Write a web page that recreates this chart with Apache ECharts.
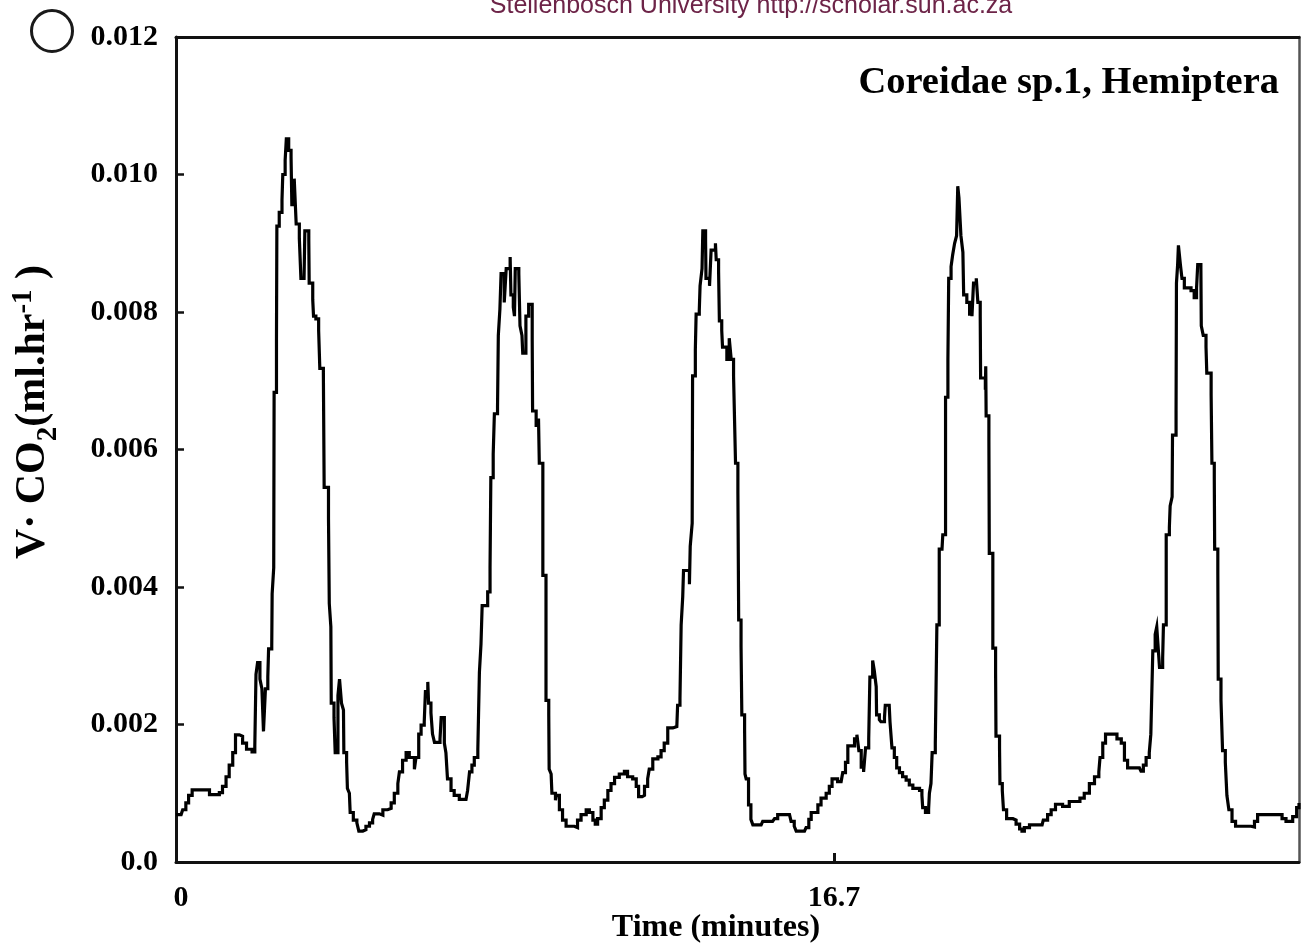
<!DOCTYPE html>
<html>
<head>
<meta charset="utf-8">
<script src="https://cdn.jsdelivr.net/npm/echarts@6/dist/echarts.min.js"></script>
<style>
html,body{margin:0;padding:0;background:#fff;}
#chart{width:1304px;height:951px;}
</style>
</head>
<body>
<div id="chart"></div>
<script>
// Time in minutes
const time = [
0,0.13,0.17,0.25,0.32,0.41,0.76,0.85,1.02,1.10,1.18,1.27,1.35,1.44,1.51,1.61,1.69,1.79,1.93,2.00,
2.03,2.07,2.13,2.18,2.22,2.27,2.33,2.35,2.43,2.44,2.48,2.49,2.55,2.56,2.62,2.69,2.71,2.77,2.80,2.86,
2.92,2.94,3.00,3.05,3.13,3.17,3.25,3.27,3.37,3.38,3.47,3.49,3.55,3.62,3.65,3.74,3.76,3.87,3.89,3.93,
3.94,4.01,4.04,4.11,4.15,4.20,4.25,4.26,4.33,4.35,4.40,4.42,4.50,4.59,4.64,4.74,
4.82,4.91,4.99,5.03,5.16,5.25,5.37,5.46,5.54,5.63,5.67,5.75,5.84,5.92,6.05,6.09,6.16,6.22,6.30,6.33,
6.39,6.41,6.47,6.51,6.56,6.64,6.70,6.73,6.81,6.81,6.85,6.89,6.98,7.06,7.19,7.36,7.40,7.45,7.51,7.57,
7.66,7.70,7.74,7.77,7.91,7.97,7.99,8.05,8.08,8.16,8.18,8.22,8.25,8.33,8.38,8.48,8.50,8.56,8.59,8.61,
8.70,8.73,8.78,8.80,8.88,8.95,9.04,9.05,9.14,9.20,9.22,9.31,9.31,9.39,9.39,9.46,9.47,9.52,9.54,9.63,
9.65,9.73,9.81,9.90,10.11,10.19,10.28,10.41,10.49,10.58,10.64,10.70,10.79,10.87,10.96,11.04,11.13,11.25,11.38,11.46,
11.59,11.68,11.74,11.83,11.89,11.97,12.01,12.10,12.23,12.31,12.39,12.48,12.61,12.71,12.73,12.79,12.82,12.86,12.88,13.03,
13.05,13.10,13.11,13.18,13.20,13.28,13.30,13.35,13.37,13.44,13.45,13.54,13.58,13.69,13.71,13.77,13.79,13.85,13.87,13.98,
14.04,14.09,14.15,14.20,14.26,14.28,14.34,14.36,14.43,14.44,14.47,
14.53,14.59,14.64,14.85,14.89,15.14,15.19,15.27,15.57,15.61,15.69,15.74,15.95,15.99,16.06,16.12,16.20,16.29,16.37,16.50,
16.58,16.65,16.73,16.79,16.88,16.92,16.99,17.05,17.16,17.22,17.28,17.33,17.39,17.45,17.50,17.58,17.61,17.68,17.72,17.77,
17.78,17.85,17.89,17.98,18.00,18.10,18.12,18.17,18.23,18.29,18.36,18.44,18.53,18.61,18.70,18.87,18.93,18.95,19.02,19.10,
19.12,19.16,19.19,19.27,
19.31,19.37,19.37,19.44,19.46,19.53,19.53,19.59,19.61,19.67,19.71,19.76,19.81,19.84,19.87,19.92,19.97,19.99,20.07,20.14,
20.20,20.24,20.31,20.35,20.41,20.42,20.54,20.55,20.56,20.63,20.64,20.73,20.73,20.80,20.81,20.90,20.91,20.97,21.00,21.08,
21.24,21.32,21.41,21.47,21.53,21.66,21.98,22.01,22.12,22.21,22.32,22.50,22.67,22.84,22.94,23.05,23.18,23.31,23.42,23.45,
23.52,23.59,23.82,23.88,23.99,24.07,
24.15,24.45,24.49,24.55,24.62,24.70,24.74,24.79,24.85,24.89,24.92,24.96,25.04,25.06,25.13,25.13,25.21,25.23,25.28,25.29,
25.38,25.39,25.42,25.44,25.49,25.53,25.59,25.76,25.84,25.90,25.93,26.01,26.02,26.07,26.14,26.16,26.27,26.29,26.35,26.36,
26.44,26.45,26.52,26.56,26.63,26.67,26.72,26.80,26.89,27.28,27.37,27.45,28.00,28.07,28.17,28.26,28.34,28.44,28.50
];
// VCO2 (ml/hr)
const vco2 = [
0.00069,0.00069,0.00076,0.00086,0.00097,0.00105,0.00105,0.00098,0.00098,0.00101,0.0011,0.00124,0.00141,0.00159,0.00185,0.00183,0.00173,0.00164,0.0016,0.00169,
0.00273,0.0029,0.00266,0.00252,0.0019,0.00252,0.00269,0.0031,0.00314,0.0039,0.00428,0.00683,0.00759,0.00925,0.00945,0.00963,0.01,0.01021,0.01052,0.01035,
0.01025,0.00956,0.00994,0.00928,0.00907,0.00849,0.00849,0.00918,0.00904,0.00842,0.00818,0.00794,0.0079,0.00773,0.00718,0.00711,0.00545,0.005,0.00376,0.00342,
0.00231,0.0021,0.00159,0.00242,0.00266,0.00231,0.00221,0.00159,0.00145,0.00107,0.001,0.00072,0.00061,0.00057,0.00045,0.00047,
0.00052,0.00057,0.00062,0.0007,0.00068,0.00076,0.00078,0.00086,0.001,0.00114,0.00131,0.00148,0.00159,0.00152,0.00135,0.00152,0.00186,0.00199,0.00204,0.00248,
0.00262,0.00231,0.00217,0.00186,0.00174,0.00174,0.00179,0.0021,0.0021,0.00173,0.00159,0.00121,0.00104,0.00097,0.00091,0.00091,0.00104,0.00131,0.00141,0.00152,
0.00164,0.00276,0.00317,0.00373,0.00393,0.00428,0.00559,0.00593,0.00652,0.00662,0.00766,0.00804,0.00856,0.00814,0.00863,0.0088,0.00825,0.00807,0.00794,0.00863,
0.00856,0.0078,0.00766,0.0074,0.00794,0.00811,0.00759,0.00656,0.00635,0.00645,0.0058,0.00545,0.00417,0.0038,0.00235,0.00214,0.00135,0.00128,0.001,0.0009,
0.00097,0.00076,0.00061,0.00052,0.0005,0.00061,0.00069,0.00076,0.00072,0.00061,0.00055,0.00063,0.00079,0.0009,0.00104,0.00114,0.00123,0.00128,0.00132,0.00124,
0.00121,0.0011,0.00095,0.00097,0.0011,0.00121,0.00135,0.0015,0.00153,0.00162,0.00173,0.00195,0.00197,0.00197,0.00228,0.00238,0.00345,0.00386,0.00424,0.00404,
0.00459,0.00493,0.00707,0.00745,0.00797,0.00802,0.00838,0.00863,0.00918,0.00904,0.00849,0.00838,0.0089,0.009,0.00876,0.00859,0.00787,0.00773,0.00749,0.00731,
0.00762,0.00731,0.00707,0.0058,0.00538,0.00352,0.00314,0.00214,0.00193,0.00128,0.00121,
0.00083,0.00062,0.00054,0.00054,0.00059,0.00059,0.00063,0.00069,0.00069,0.00059,0.00052,0.00045,0.00045,0.0005,0.00062,0.00072,0.00072,0.00083,0.00093,0.001,
0.0011,0.00121,0.00121,0.00117,0.00117,0.0013,0.00145,0.00169,0.00169,0.00179,0.00185,0.00162,0.00138,0.00131,0.00166,0.00179,0.00269,0.00293,0.00279,0.00255,
0.00214,0.00207,0.00204,0.0021,0.00228,0.00228,0.00204,0.00166,0.00152,0.00137,0.0013,0.00124,0.00119,0.00112,0.00107,0.00104,0.00097,0.00079,0.00072,0.00077,
0.001,0.00114,0.00159,0.00173,
0.00345,0.00386,0.00455,0.00455,0.00476,0.00497,0.00676,0.00731,0.00849,0.00866,0.00883,0.009,0.00911,0.00983,0.00966,0.00911,0.00887,0.00825,0.00814,0.00797,
0.00794,0.00842,0.00849,0.00814,0.00794,0.00704,0.00687,0.00721,0.00649,0.00614,0.00449,0.00414,0.00311,0.00276,0.00183,0.00166,0.00114,0.00104,0.00076,0.00063,
0.00061,0.00055,0.00048,0.00045,0.0005,0.00054,0.00054,0.00061,0.00069,0.00076,0.00084,0.00081,0.00088,0.00088,0.00093,0.001,0.00114,0.00124,0.00131,0.00152,
0.00173,0.00186,0.00186,0.00179,0.00173,0.00148,
0.00137,0.00137,0.00132,0.00141,0.00152,0.00159,0.00186,0.00307,0.00331,0.00342,0.00317,0.00283,0.00297,0.00345,0.0038,0.00476,0.00487,0.00518,0.00531,0.00621,
0.00656,0.00842,0.00869,0.00897,0.00869,0.00849,0.00835,0.00831,0.00821,0.00835,0.00869,0.00863,0.0078,0.00766,0.00749,0.00711,0.0068,0.0058,0.00559,0.00455,
0.00421,0.00266,0.00235,0.00162,0.00145,0.00097,0.00076,0.00059,0.00052,0.00051,0.00059,0.00069,0.00069,0.00063,0.00059,0.00059,0.00066,0.00079,0.00086
];
const xTickValues = [16.7];
const xLabelValues = [0, 16.7];
const yMin = 0, yMax = 0.012, yStep = 0.002;
const xMin = 0, xMax = 28.5;

const seriesData = time.map((t, i) => [t, vco2[i]]);

const SERIF = '"Liberation Serif", "Times New Roman", serif';
const chart = echarts.init(document.getElementById('chart'), null, {renderer: 'canvas'});

// y-axis title pieces laid out with measured widths
const mctx = document.createElement('canvas').getContext('2d');
function tw(txt, size) { mctx.font = 'bold ' + size + 'px ' + SERIF; return mctx.measureText(txt).width; }
const yTitlePieces = [
  {t: 'V', s: 42, dy: 0},
  {t: '\u00B7', s: 42, dy: 0},
  {t: ' CO', s: 42, dy: 0},
  {t: '2', s: 29, dy: 9},
  {t: '(ml.hr', s: 42, dy: 0},
  {t: '-1', s: 29, dy: -16},
  {t: ' )', s: 42, dy: 0}
];
let total = 0;
yTitlePieces.forEach(p => { p.w = tw(p.t, p.s); total += p.w; });
let cur = -total / 2;
const yTitleChildren = yTitlePieces.map(p => {
  const el = {type: 'text', x: cur, y: p.dy, style: {text: p.t, font: 'bold ' + p.s + 'px ' + SERIF, fill: '#000', textAlign: 'left', textVerticalAlign: 'bottom'}};
  cur += p.w;
  return el;
});

const option = {
  animation: false,
  backgroundColor: '#fff',
  grid: {left: 176, right: 5, top: 37, bottom: 89, containLabel: false},
  xAxis: [{
    type: 'value', min: xMin, max: xMax, position: 'bottom',
    axisLine: {show: true, onZero: false, lineStyle: {color: '#111', width: 3}},
    axisTick: {show: true, inside: true, length: 9, lineStyle: {color: '#111', width: 3}, customValues: xTickValues},
    axisLabel: {show: true, customValues: xLabelValues, margin: 21, color: '#000', fontFamily: SERIF, fontWeight: 'bold', fontSize: 30,
      formatter: v => (Math.abs(v) < 1e-9 ? '{z|0}' : v.toFixed(1)),
      rich: {z: {fontFamily: SERIF, fontWeight: 'bold', fontSize: 30, color: '#000', padding: [0, 0, 0, 10]}}},
    splitLine: {show: false}
  }, {
    type: 'value', min: xMin, max: xMax, position: 'top',
    axisLine: {show: true, onZero: false, lineStyle: {color: '#111', width: 3}},
    axisTick: {show: false}, axisLabel: {show: false}, splitLine: {show: false}
  }],
  yAxis: [{
    type: 'value', min: yMin, max: yMax, interval: yStep, position: 'left',
    axisLine: {show: true, onZero: false, lineStyle: {color: '#111', width: 3}},
    axisTick: {show: true, inside: true, length: 8, lineStyle: {color: '#111', width: 2.5}},
    axisLabel: {show: true, margin: 18, color: '#000', fontFamily: SERIF, fontWeight: 'bold', fontSize: 30,
      formatter: v => (Math.abs(v) < 1e-12 ? '0.0' : v.toFixed(3))},
    splitLine: {show: false}
  }, {
    type: 'value', min: yMin, max: yMax, interval: yStep, position: 'right',
    axisLine: {show: true, onZero: false, lineStyle: {color: '#555', width: 2.5}},
    axisTick: {show: false}, axisLabel: {show: false}, splitLine: {show: false}
  }],
  series: [{
    type: 'line', data: seriesData, xAxisIndex: 0, yAxisIndex: 0,
    showSymbol: false, symbol: 'none', smooth: false, step: 'end',
    lineStyle: {color: '#000', width: 3.2, join: 'miter'},
    clip: true
  }],
  graphic: [
    {type: 'text', x: 751, y: 19, style: {text: 'Stellenbosch University http://scholar.sun.ac.za', font: '25px "Liberation Sans", Arial, sans-serif', fill: '#6d2448', textAlign: 'center', textVerticalAlign: 'bottom'}},
    {type: 'circle', shape: {cx: 52, cy: 31, r: 20.5}, style: {fill: 'none', stroke: '#1a1a1a', lineWidth: 3}},
    {type: 'text', x: 1279, y: 83, style: {text: 'Coreidae sp.1, Hemiptera', font: 'bold 38.5px ' + SERIF, fill: '#000', textAlign: 'right', textVerticalAlign: 'middle'}},
    {type: 'text', x: 716, y: 928, style: {text: 'Time (minutes)', font: 'bold 32px ' + SERIF, fill: '#000', textAlign: 'center', textVerticalAlign: 'middle'}},
    {type: 'group', x: 54, y: 412, rotation: Math.PI / 2, children: yTitleChildren}
  ]
};
chart.setOption(option);
</script>
</body>
</html>
